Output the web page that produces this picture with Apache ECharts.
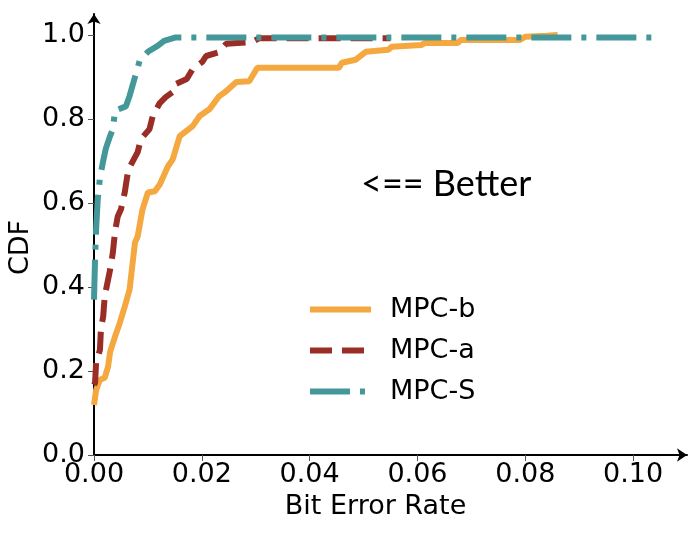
<!DOCTYPE html>
<html lang="en">
<head>
    <meta charset="UTF-8">
    <title>BER CDF</title>
    <script src="https://cdn.jsdelivr.net/npm/echarts@6/dist/echarts.min.js"></script>
    <style>
        * {
            margin: 0;
            padding: 0
        }

        html, body {
            width: 100%;
            height: 100%;
            background: #fff;
        }

        #main {
            width: 699px;
            height: 533px;
        }
    </style>
</head>
<body>
<div id="main"></div>
<script type="text/javascript">
    /*------------ data ------------*/
    var berB = [0, 0.0004, 0.0011, 0.002, 0.0026, 0.003, 0.0039, 0.0048, 0.0057, 0.0066, 0.0076, 0.0081, 0.009,
        0.010, 0.0113, 0.0122, 0.0137, 0.0146, 0.0159, 0.0183, 0.0196, 0.0214, 0.0232, 0.0245, 0.0264, 0.0288,
        0.0303, 0.0454, 0.046, 0.0485, 0.0504, 0.0546, 0.0552, 0.0607, 0.0614, 0.0675, 0.068, 0.079, 0.080, 0.084, 0.086];
    var cdfB = [0.119, 0.155, 0.179, 0.184, 0.21, 0.246, 0.282, 0.315, 0.353, 0.394, 0.506, 0.52, 0.585,
        0.625, 0.628, 0.644, 0.687, 0.704, 0.759, 0.783, 0.807, 0.823, 0.854, 0.866, 0.888, 0.890,
        0.922, 0.922, 0.934, 0.941, 0.96, 0.965, 0.972, 0.976, 0.981, 0.981, 0.988, 0.988, 0.996, 0.998, 1.0];

    var berA = [0, 0.0002, 0.0004, 0.0011, 0.0013, 0.0017, 0.002, 0.003, 0.0035, 0.0039, 0.0044, 0.005, 0.0057,
        0.0063, 0.0068, 0.0081, 0.0087, 0.0103, 0.0109, 0.0122, 0.0133, 0.0146, 0.0151, 0.0172, 0.0183, 0.0201,
        0.0208, 0.0232, 0.0245, 0.0293, 0.0306, 0.055];
    var cdfA = [0.167, 0.172, 0.222, 0.25, 0.303, 0.329, 0.379, 0.442, 0.482, 0.532, 0.568, 0.585, 0.625,
        0.675, 0.69, 0.721, 0.752, 0.776, 0.807, 0.838, 0.852, 0.864, 0.883, 0.895, 0.919, 0.936,
        0.950, 0.959, 0.979, 0.983, 0.992, 0.992];

    var berS = [0, 0.0002, 0.0004, 0.0007, 0.0011, 0.0017, 0.0022, 0.003, 0.0035, 0.0039, 0.0059, 0.0066,
        0.0076, 0.0085, 0.010, 0.0118, 0.013, 0.015, 0.104];
    var cdfS = [0.37, 0.47, 0.54, 0.61, 0.66, 0.70, 0.73, 0.76, 0.776, 0.82, 0.83, 0.855,
        0.90, 0.94, 0.96, 0.974, 0.986, 0.994, 0.994];

    var xTicks = [0, 0.02, 0.04, 0.06, 0.08, 0.10];
    var yTicks = [0, 0.2, 0.4, 0.6, 0.8, 1.0];

    function pairs(xs, ys) {
        return xs.map(function (x, i) { return [x, ys[i]]; });
    }

    var font = 'DejaVu Sans';
    var chart = echarts.init(document.getElementById('main'));
    chart.setOption({
        animation: false,
        grid: {left: 94, right: 12, top: 14, bottom: 78, containLabel: false, outerBoundsMode: 'none'},
        legend: {
            left: 307,
            top: 296,
            padding: 0,
            orient: 'vertical',
            itemWidth: 61,
            itemHeight: 14,
            itemGap: 14,
            itemStyle: {opacity: 0},
            lineStyle: {width: 6},
            textStyle: {fontFamily: font, fontSize: 27, color: '#000', padding: [0, 0, 0, 14]},
            data: ['MPC-b', 'MPC-a', 'MPC-S']
        },
        graphic: [{
            type: 'text',
            left: 361,
            top: 166,
            style: {text: '<== Better', font: '36px Lato', fill: '#000'}
        }],
        xAxis: {
            type: 'value',
            min: 0,
            max: 0.11,
            name: 'Bit Error Rate',
            nameLocation: 'middle',
            nameGap: 38,
            nameMoveOverlap: false,
            nameTextStyle: {fontFamily: font, fontSize: 27, color: '#000', padding: [0, 30, 0, 0]},
            splitLine: {show: false},
            axisLine: {lineStyle: {color: '#000', width: 2}, symbol: ['none', 'arrow'], symbolSize: [10, 10]},
            axisTick: {customValues: xTicks, length: 6, lineStyle: {color: '#555'}},
            axisLabel: {
                customValues: xTicks, margin: 6,
                fontFamily: font, fontSize: 27, color: '#000',
                formatter: function (v) { return v.toFixed(2); }
            }
        },
        yAxis: {
            type: 'value',
            min: 0,
            max: 1.05,
            name: 'CDF',
            nameLocation: 'middle',
            nameGap: 60,
            nameMoveOverlap: false,
            nameTextStyle: {fontFamily: font, fontSize: 27, color: '#000', padding: [0, 26, 0, 0]},
            splitLine: {show: false},
            axisLine: {lineStyle: {color: '#000', width: 2}, symbol: ['none', 'arrow'], symbolSize: [10, 10]},
            axisTick: {customValues: yTicks, length: 6, lineStyle: {color: '#555'}},
            axisLabel: {
                customValues: yTicks, margin: 9,
                fontFamily: font, fontSize: 27, color: '#000',
                formatter: function (v) { return v.toFixed(1); }
            }
        },
        series: [
            {
                name: 'MPC-b',
                type: 'line',
                symbol: 'none',
                color: '#F4A83F',
                lineStyle: {width: 6, color: '#F4A83F'},
                data: pairs(berB, cdfB)
            },
            {
                name: 'MPC-a',
                type: 'line',
                symbol: 'none',
                color: '#9A2E27',
                lineStyle: {width: 6, color: '#9A2E27', type: [22, 10]},
                data: pairs(berA, cdfA)
            },
            {
                name: 'MPC-S',
                type: 'line',
                symbol: 'none',
                color: '#45989A',
                lineStyle: {width: 6, color: '#45989A', type: [40, 10, 5, 10]},
                data: pairs(berS, cdfS)
            }
        ]
    });
</script>

</body>
</html>
